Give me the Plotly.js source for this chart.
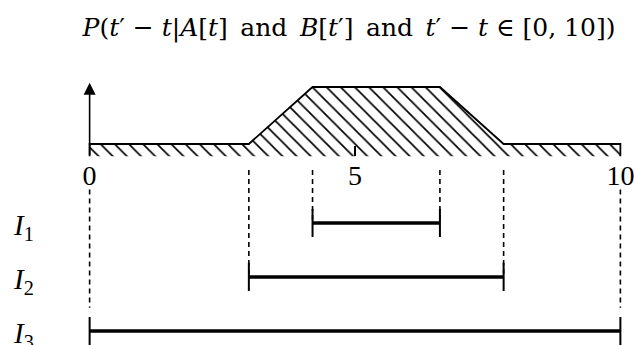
<!DOCTYPE html>
<html>
<head>
<meta charset="utf-8">
<script src="https://cdn.plot.ly/plotly-3.0.1.min.js"></script>
<style>html,body{margin:0;padding:0;background:#fff;}#chart{width:634px;height:345px;}</style>
</head>
<body>
<div id="chart"></div>
<script>
// Density profile P(t' - t | ...) : breakpoints and relative heights
var densityX = [0, 0, 3, 4.2, 6.6, 7.8, 10, 10];
var densityY = [0, 0.18, 0.18, 1, 1, 0.18, 0.18, 0];
// Intervals
var intervalNames = ['1', '2', '3'];
var intervalStart = [4.2, 3, 0];
var intervalEnd = [6.6, 7.8, 10];
var intervalRow = [1, 2, 3];
// x-axis ticks
var tickVals = [0, 5, 10];
var tickText = ['0', '5', '10'];
var arrowTop = 1.062;

var serif = 'Liberation Serif, Times New Roman, serif';
var titleFont = 'DejaVu Serif, serif';
var ML = 79, MR = 3, W = 634;
var plotW = W - ML - MR;
var traces = [];
traces.push({
  x: densityX, y: densityY, xaxis: 'x', yaxis: 'y',
  mode: 'lines', fill: 'toself', fillcolor: 'white',
  fillpattern: {shape: '\\', size: 10, solidity: 0.17, fgcolor: 'black', bgcolor: 'white'},
  line: {color: 'black', width: 1.8}, hoverinfo: 'skip', cliponaxis: false, showlegend: false
});
for (var i = 0; i < intervalNames.length; i++) {
  traces.push({
    x: [intervalStart[i], intervalEnd[i]], y: [intervalRow[i], intervalRow[i]],
    xaxis: 'x', yaxis: 'y2', mode: 'lines+markers',
    line: {color: 'black', width: 3.5},
    marker: {symbol: 'line-ns', size: 20, color: 'black', line: {color: 'black', width: 2}},
    hoverinfo: 'skip', cliponaxis: false, showlegend: false
  });
}

var shapes = [];
var annotations = [];
for (var i = 0; i < intervalNames.length; i++) {
  var ends = [intervalStart[i], intervalEnd[i]];
  var last = (i === intervalNames.length - 1);
  for (var k = 0; k < 2; k++) {
    shapes.push({
      type: 'line', xref: 'x', yref: 'y2',
      x0: ends[k], x1: ends[k],
      y0: last ? 0.38 : 0.02, y1: last ? intervalRow[i] - 0.43 : intervalRow[i],
      line: {color: 'black', width: 1.6, dash: '5px,4px'}, layer: 'below'
    });
  }
  annotations.push({
    xref: 'paper', yref: 'y2', x: (11 - ML) / plotW, y: intervalRow[i] + 0.08,
    xanchor: 'left', yanchor: 'middle', showarrow: false,
    text: '<i>I</i><sub>' + intervalNames[i] + '</sub>',
    font: {family: serif, size: 29, color: 'black'}
  });
}
annotations.push({
  xref: 'x', yref: 'y', x: 0, y: arrowTop, axref: 'x', ayref: 'y', ax: 0, ay: 0,
  text: '', showarrow: true, arrowhead: 2, arrowsize: 1.5, arrowwidth: 1.6, arrowcolor: 'black', standoff: 0
});

var sp = '\u2002';
var layout = {
  width: 634, height: 345,
  margin: {l: ML, r: MR, t: 0, b: 0, pad: 0},
  paper_bgcolor: 'white', plot_bgcolor: 'white',
  title: {
    text: '<i>P</i>(<i>t</i>′ − <i>t</i>|<i>A</i>[<i>t</i>]' + sp + 'and' + sp + '<i>B</i>[<i>t</i>′]' + sp + 'and' + sp + '<i>t</i>′ − <i>t</i> ∈ [0, 10])',
    x: (349 - ML) / plotW, xref: 'paper', xanchor: 'center', y: 0.921, yanchor: 'middle',
    font: {family: titleFont, size: 25, color: 'black'}
  },
  xaxis: {
    range: [-0.2, 10.2], anchor: 'y', showgrid: false, zeroline: false, showline: false,
    tickmode: 'array', tickvals: tickVals, ticktext: tickText,
    ticks: 'inside', ticklen: 10, tickwidth: 1.5, tickcolor: 'black',
    ticklabeloverflow: 'allow',
    tickfont: {family: serif, size: 28, color: 'black'}, fixedrange: true
  },
  yaxis: {domain: [0.5464, 0.768], range: [0, 1.1], visible: false, fixedrange: true},
  yaxis2: {domain: [0, 0.5464], range: [3.259, -0.2315], visible: false, anchor: 'x', fixedrange: true},
  shapes: shapes,
  annotations: annotations
};
Plotly.newPlot('chart', traces, layout, {staticPlot: true, displayModeBar: false});
</script>
</body>
</html>
